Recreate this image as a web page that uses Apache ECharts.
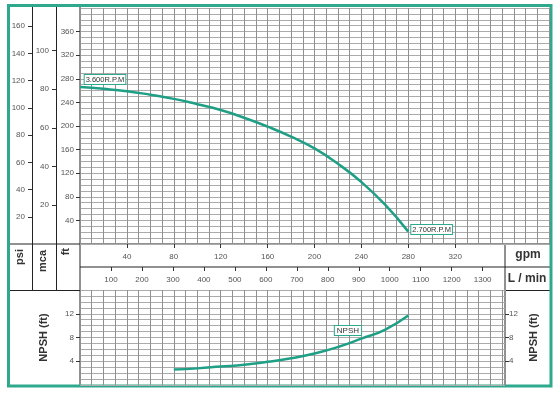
<!DOCTYPE html>
<html><head><meta charset="utf-8">
<script src="https://cdn.jsdelivr.net/npm/echarts@6/dist/echarts.min.js"></script>
<style>html,body{margin:0;padding:0;background:#fff}#c{width:560px;height:396px}</style>
</head><body><div id="c"></div>
<script>
// ---- data ----
const headFlowGpm = [0, 20, 40, 60, 80, 100, 120, 140, 160, 180, 200, 220, 240, 260, 280];
const headFt      = [266, 263, 259, 253, 246, 237, 227, 214, 199, 182, 162, 136, 105, 67, 21];
const npshFlowGpm = [80, 100, 120, 140, 160, 180, 200, 220, 240, 260, 280];
const npshFt      = [2.6, 2.8, 3.1, 3.4, 3.9, 4.5, 5.3, 6.4, 7.8, 9.3, 11.7];
const gpmTicks  = [40, 80, 120, 160, 200, 240, 280, 320];
const lminTicks = [100, 200, 300, 400, 500, 600, 700, 800, 900, 1000, 1100, 1200, 1300];
const ftTicks   = [40, 80, 120, 160, 200, 240, 280, 320, 360];
const psiTicks  = [20, 40, 60, 80, 100, 120, 140, 160];
const mcaTicks  = [20, 40, 60, 80, 100];
const npshTicks = [4, 8, 12];
const labelStart = '3.600R.P.M';
const labelEnd = '2.700R.P.M';
const labelNpsh = 'NPSH';

// ---- chart ----
const TEAL = '#2fa98d';
const LINE = '#1fa086';
const GRID_V = '#909090';
const GRID_H = '#ababab';
const FONT = 'Liberation Sans, Arial, sans-serif';
const FT_MAX = 400, GPM_MAX = 400;
const PX_PER_GPM = 469 / GPM_MAX;
const tickLbl = {fontSize: 8, color: '#555', fontFamily: FONT, formatter: v => String(v)};
const boxLbl = {show: true, backgroundColor: '#fff', borderColor: TEAL, borderWidth: 1,
  padding: [1, 1, 0, 1], fontSize: 7.5, color: '#333', fontFamily: FONT};
const tickStyle = {color: '#333', width: 1};
const nameStyle = {fontSize: 11, fontWeight: 'bold', color: '#333', fontFamily: FONT};

function gridAxis(color, extra) {
  return Object.assign({type: 'value', axisLine: {show: false, onZero: false}, axisTick: {show: false},
    axisLabel: {show: false}, splitLine: {show: true, lineStyle: {color: color, width: 1}}}, extra);
}
function tickAxis(ticks, margin, extra) {
  return Object.assign({type: 'value', axisLine: {show: false, onZero: false}, splitLine: {show: false},
    axisTick: {show: true, customValues: ticks, length: 4, lineStyle: tickStyle},
    axisLabel: Object.assign({customValues: ticks, margin: margin}, tickLbl)}, extra);
}

const headData = headFlowGpm.map((g, i) => {
  const d = {value: [g, headFt[i]]};
  if (i === 0) d.label = Object.assign({}, boxLbl, {formatter: labelStart, position: 'top', distance: 3, offset: [25, 0]});
  if (i === headFlowGpm.length - 1) d.label = Object.assign({}, boxLbl, {formatter: labelEnd, position: 'right', distance: 3, offset: [0, -2]});
  return d;
});
const npshData = npshFlowGpm.map((g, i) => {
  const d = {value: [g, npshFt[i]]};
  if (g === 220) d.label = Object.assign({}, boxLbl, {formatter: labelNpsh, fontSize: 8, padding: [1, 2, 0, 2], position: 'top', distance: 4, offset: [10, -8]});
  return d;
});

const chart = echarts.init(document.getElementById('c'), null, {renderer: 'canvas'});
chart.setOption({
  animation: false,
  backgroundColor: '#fff',
  grid: [
    {left: 80, top: 8, width: 469, height: 236},
    {left: 80, top: 290, width: 425, height: 95}
  ],
  xAxis: [
    gridAxis(GRID_V, {gridIndex: 0, min: 0, max: GPM_MAX, interval: 10}),
    tickAxis(gpmTicks, 9, {gridIndex: 0, min: 0, max: GPM_MAX, position: 'bottom'}),
    tickAxis(lminTicks, 9, {gridIndex: 0, min: 0, max: GPM_MAX * 3.7854, position: 'bottom', offset: 23}),
    gridAxis(GRID_V, {gridIndex: 1, min: 0, max: 425 / PX_PER_GPM, interval: 10})
  ],
  yAxis: [
    gridAxis(GRID_H, {gridIndex: 0, min: 0, max: FT_MAX, interval: 10}),
    tickAxis(ftTicks, 6, {gridIndex: 0, min: 0, max: FT_MAX, position: 'left'}),
    tickAxis(psiTicks, 7, {gridIndex: 0, min: 0, max: FT_MAX / 2.3067, position: 'left', offset: 48}),
    tickAxis(mcaTicks, 7, {gridIndex: 0, min: 0, max: FT_MAX / 3.2808, position: 'left', offset: 24}),
    gridAxis(GRID_H, {gridIndex: 1, min: 0, max: 16, interval: 1}),
    tickAxis(npshTicks, 6, {gridIndex: 1, min: 0, max: 16, position: 'left',
      name: 'NPSH (ft)', nameLocation: 'middle', nameRotate: 90, nameGap: 31, nameTextStyle: nameStyle}),
    tickAxis(npshTicks, 4, {gridIndex: 1, min: 0, max: 16, position: 'right',
      name: 'NPSH (ft)', nameLocation: 'middle', nameRotate: 90, nameGap: 22, nameTextStyle: nameStyle})
  ],
  series: [
    {type: 'line', xAxisIndex: 0, yAxisIndex: 0, data: headData, smooth: true, showSymbol: true,
      symbol: 'circle', symbolSize: 0, lineStyle: {color: LINE, width: 2.5}, itemStyle: {color: LINE}, z: 5},
    {type: 'line', xAxisIndex: 3, yAxisIndex: 4, data: npshData, smooth: true, showSymbol: true,
      symbol: 'circle', symbolSize: 0, lineStyle: {color: LINE, width: 2.5}, itemStyle: {color: LINE}, z: 5}
  ],
  graphic: [
    {type: 'group', z: 100, children: [
      {type: 'line', shape: {x1: 32.5, y1: 6, x2: 32.5, y2: 291}, style: {stroke: '#222', lineWidth: 1}},
      {type: 'line', shape: {x1: 56.5, y1: 6, x2: 56.5, y2: 291}, style: {stroke: '#222', lineWidth: 1}},
      {type: 'line', shape: {x1: 80, y1: 6, x2: 80, y2: 386}, style: {stroke: '#222', lineWidth: 1}},
      {type: 'line', shape: {x1: 9, y1: 244, x2: 550, y2: 244}, style: {stroke: '#222', lineWidth: 1}},
      {type: 'line', shape: {x1: 9, y1: 290.5, x2: 550, y2: 290.5}, style: {stroke: '#222', lineWidth: 1.2}},
      {type: 'line', shape: {x1: 80, y1: 267, x2: 550, y2: 267}, style: {stroke: '#222', lineWidth: 1}},
      {type: 'line', shape: {x1: 505, y1: 244, x2: 505, y2: 386}, style: {stroke: '#222', lineWidth: 1}},
      {type: 'rect', shape: {x: 8.5, y: 5.5, width: 542.5, height: 380.5}, style: {fill: null, stroke: TEAL, lineWidth: 3}},
      {type: 'text', x: 20, y: 249, rotation: Math.PI / 2, style: {text: 'psi', font: 'bold 11px ' + FONT, fill: '#333', textAlign: 'right', textVerticalAlign: 'middle'}},
      {type: 'text', x: 43, y: 250, rotation: Math.PI / 2, style: {text: 'mca', font: 'bold 11px ' + FONT, fill: '#333', textAlign: 'right', textVerticalAlign: 'middle'}},
      {type: 'text', x: 66, y: 248, rotation: Math.PI / 2, style: {text: 'ft', font: 'bold 11px ' + FONT, fill: '#333', textAlign: 'right', textVerticalAlign: 'middle'}},
      {type: 'text', x: 528, y: 255, style: {text: 'gpm', font: 'bold 12px ' + FONT, fill: '#333', textAlign: 'center', textVerticalAlign: 'middle'}},
      {type: 'text', x: 527, y: 279, style: {text: 'L / min', font: 'bold 12px ' + FONT, fill: '#333', textAlign: 'center', textVerticalAlign: 'middle'}}
    ]}
  ]
});
</script></body></html>
